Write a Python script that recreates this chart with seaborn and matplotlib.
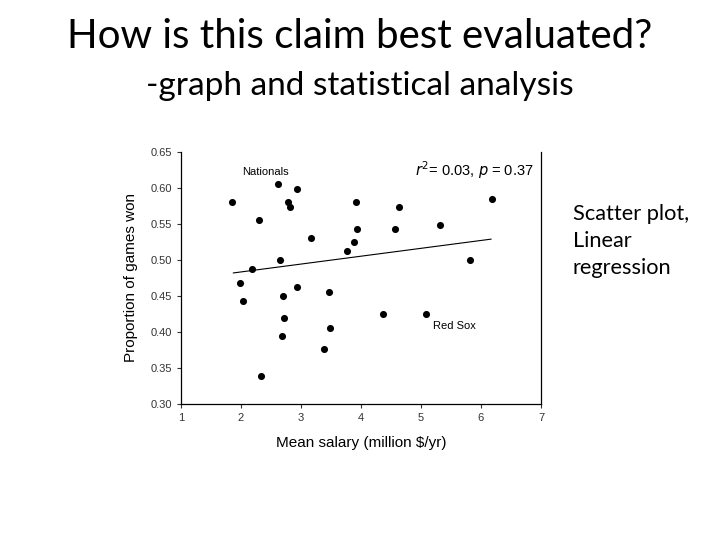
import matplotlib
matplotlib.use("Agg")
import matplotlib.pyplot as plt
import seaborn as sns
import pandas as pd

# team salaries (million $/yr) and proportion of games won
salary = [1.85, 2.62, 2.94, 2.78, 2.81, 2.30, 3.92, 4.63, 6.18, 3.17,
          3.94, 4.56, 5.32, 3.88, 3.76, 2.65, 5.81, 2.19, 1.98, 2.93,
          2.03, 2.70, 3.46, 2.71, 4.37, 5.09, 3.49, 2.69, 3.39, 2.33]
won = [0.580, 0.605, 0.599, 0.580, 0.573, 0.555, 0.580, 0.573, 0.585, 0.530,
       0.543, 0.543, 0.549, 0.525, 0.512, 0.500, 0.500, 0.4875, 0.468, 0.4625,
       0.443, 0.450, 0.456, 0.419, 0.425, 0.425, 0.406, 0.394, 0.376, 0.339]

# regression line end points as drawn
fit_x = [1.87, 6.17]
fit_y = [0.482, 0.529]

x_ticks = [1, 2, 3, 4, 5, 6, 7]
y_ticks = [0.30, 0.35, 0.40, 0.45, 0.50, 0.55, 0.60, 0.65]

df = pd.DataFrame({"salary": salary, "won": won})
fit = pd.DataFrame({"salary": fit_x, "won": fit_y})

sns.set_style("ticks")
plt.rcParams["font.family"] = ["Liberation Sans", "DejaVu Sans"]
plt.rcParams["text.color"] = "black"
plt.rcParams["axes.labelcolor"] = "black"

fig = plt.figure(figsize=(7.2, 5.4), dpi=100)
ax = fig.add_axes([181 / 720, 136 / 540, 360 / 720, 252 / 540])

sns.scatterplot(data=df, x="salary", y="won", ax=ax, color="black",
                s=26, edgecolor="black", linewidth=0)
sns.lineplot(data=fit, x="salary", y="won", ax=ax, color="black", linewidth=0.8)

ax.set_xlim(1, 7)
ax.set_ylim(0.30, 0.65)
ax.set_xticks(x_ticks)
ax.set_xticklabels([str(t) for t in x_ticks])
ax.set_yticks(y_ticks)
ax.set_yticklabels([f"{t:.2f}" for t in y_ticks])
ax.tick_params(labelsize=8, length=3, width=0.8, colors="#333333")
ax.spines["top"].set_visible(False)
for s in ["left", "bottom", "right"]:
    ax.spines[s].set_linewidth(0.9)
    ax.spines[s].set_color("black")

ax.set_xlabel("Mean salary (million $/yr)", fontsize=11, labelpad=9)
ax.set_ylabel("Proportion of games won", fontsize=11, labelpad=9)

ax.text(2.4, 0.622, "Nationals", fontsize=8, ha="center", va="center")
ax.text(5.55, 0.408, "Red Sox", fontsize=8, ha="center", va="center")
ax.text(6.88, 0.625, r"$r^2$= 0.03, $p$ = 0.37", fontsize=10.5,
        ha="right", va="center")

title_font = ["Lato", "DejaVu Sans"]
fig.text(360, 540 - 37, "How is this claim best evaluated?", transform=None,
         fontsize=29, ha="center", va="center", family=title_font)
fig.text(360, 540 - 86, "-graph and statistical analysis", transform=None,
         fontsize=24, ha="center", va="center", family=title_font)
fig.text(573, 540 - 241, "Scatter plot,\nLinear\nregression", transform=None,
         fontsize=15.7, ha="left", va="center", linespacing=1.45,
         family=title_font)

fig.savefig("out.png", dpi=100, facecolor="white")
